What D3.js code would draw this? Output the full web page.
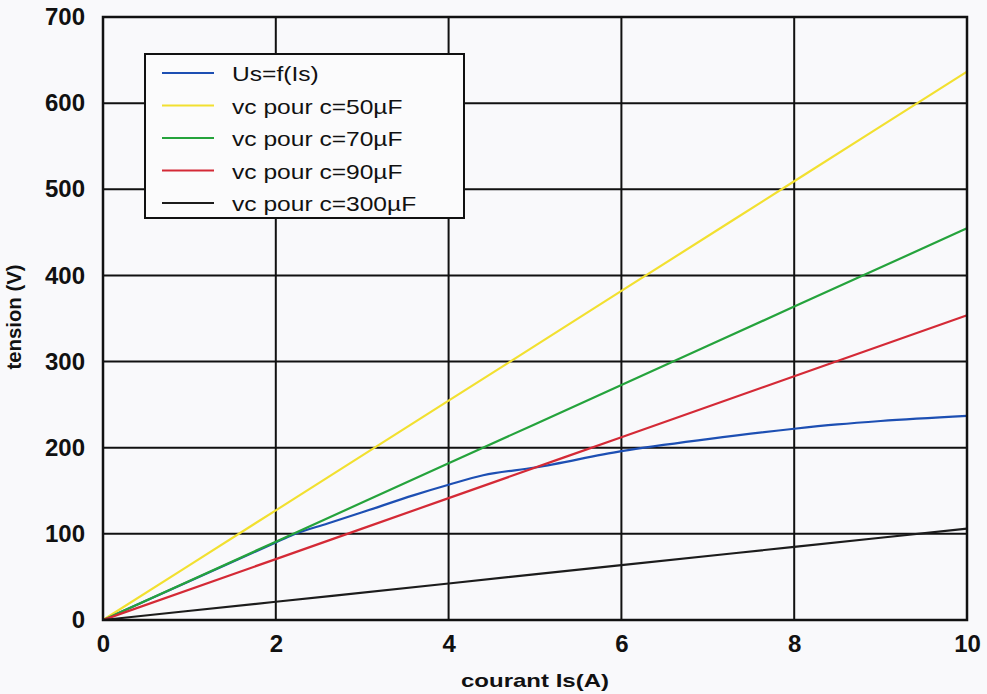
<!DOCTYPE html>
<html>
<head>
<meta charset="utf-8">
<script src="https://cdn.jsdelivr.net/npm/d3@7"></script>
<style>
  html, body { margin: 0; padding: 0; background: #f9f9fb; }
  svg { display: block; }
  text { font-family: "Liberation Sans", Arial, sans-serif; fill: #111; }
</style>
</head>
<body>
<svg id="chart" width="987" height="694"></svg>
<script>
// Current values (A) at which the capacitor voltages are tabulated
const currentA = [0, 2, 4, 6, 8, 10];
// Capacitor voltage vc (V) for each capacitance
const vc50  = [0, 127.3, 254.6, 382.0, 509.3, 636.6];
const vc70  = [0, 90.9, 181.9, 272.8, 363.8, 454.7];
const vc90  = [0, 70.7, 141.5, 212.2, 282.9, 353.7];
const vc300 = [0, 21.2, 42.4, 63.7, 84.9, 106.1];
// Measured characteristic Us = f(Is)
const usCurrent = [0, 1, 2, 2.2, 2.6, 3, 3.6, 4, 4.4, 5, 6, 7, 8, 8.5, 9, 10];
const usVoltage = [0, 45, 90, 99, 112, 125, 145, 157, 168, 177, 196, 210, 222, 227, 231, 237];

const seriesNames = ["Us=f(Is)", "vc pour c=50µF", "vc pour c=70µF", "vc pour c=90µF", "vc pour c=300µF"];
const seriesColors = ["#1d4fb3", "#f2e030", "#25a33c", "#d42a36", "#1c1c1c"];

const xTicks = [0, 2, 4, 6, 8, 10];
const yTicks = [0, 100, 200, 300, 400, 500, 600, 700];
const xTitle = "courant Is(A)";
const yTitle = "tension (V)";

const series = [
  usCurrent.map((c, i) => [c, usVoltage[i]]),
  currentA.map((c, i) => [c, vc50[i]]),
  currentA.map((c, i) => [c, vc70[i]]),
  currentA.map((c, i) => [c, vc90[i]]),
  currentA.map((c, i) => [c, vc300[i]])
];

const svg = d3.select("#chart");
const plot = { left: 103, right: 967, top: 17, bottom: 620 };

const x = d3.scaleLinear().domain([0, 10]).range([plot.left, plot.right]);
const y = d3.scaleLinear().domain([0, 700]).range([plot.bottom, plot.top]);

// grid
const grid = svg.append("g").attr("stroke", "#111").attr("stroke-width", 2);
grid.selectAll("line.v").data(xTicks.slice(1, -1)).join("line")
  .attr("x1", d => x(d)).attr("x2", d => x(d))
  .attr("y1", plot.top).attr("y2", plot.bottom);
grid.selectAll("line.h").data(yTicks.slice(1, -1)).join("line")
  .attr("x1", plot.left).attr("x2", plot.right)
  .attr("y1", d => y(d)).attr("y2", d => y(d));

// data lines (measured curve drawn first, capacitor lines over it)
const line = d3.line().x(d => x(d[0])).y(d => y(d[1])).curve(d3.curveMonotoneX);
svg.append("g").selectAll("path").data(series).join("path")
  .attr("d", line)
  .attr("fill", "none")
  .attr("stroke-width", 2.2)
  .attr("stroke-linejoin", "round")
  .attr("stroke", (d, i) => seriesColors[i]);

// frame
svg.append("rect")
  .attr("x", plot.left).attr("y", plot.top)
  .attr("width", plot.right - plot.left).attr("height", plot.bottom - plot.top)
  .attr("fill", "none").attr("stroke", "#111").attr("stroke-width", 2.5);

// axes
const yAxis = svg.append("g").attr("transform", `translate(${plot.left},0)`)
  .call(d3.axisLeft(y).tickValues(yTicks).tickSize(0).tickPadding(18).tickFormat(d3.format("d")));
const xAxis = svg.append("g").attr("transform", `translate(0,${plot.bottom})`)
  .call(d3.axisBottom(x).tickValues(xTicks).tickSize(0).tickPadding(15).tickFormat(d3.format("d")));
[yAxis, xAxis].forEach(g => {
  g.select(".domain").remove();
  g.selectAll("text")
    .style("font-family", "'Liberation Sans', Arial, sans-serif")
    .style("font-size", "24px").style("font-weight", "bold").attr("fill", "#111");
});

// axis titles
svg.append("text")
  .attr("x", (plot.left + plot.right) / 2).attr("y", 687)
  .attr("text-anchor", "middle")
  .attr("textLength", 148).attr("lengthAdjust", "spacingAndGlyphs")
  .style("font-size", "19px").style("font-weight", "bold")
  .text(xTitle);
svg.append("text")
  .attr("transform", "translate(21,317) rotate(-90)")
  .attr("text-anchor", "middle")
  .attr("textLength", 105).attr("lengthAdjust", "spacingAndGlyphs")
  .style("font-size", "20px").style("font-weight", "bold")
  .text(yTitle);

// legend
const legend = svg.append("g").attr("transform", "translate(145,54)");
legend.append("rect")
  .attr("width", 319).attr("height", 164)
  .attr("fill", "#fbfbfc").attr("stroke", "#111").attr("stroke-width", 2);
const rows = legend.selectAll("g.row").data(seriesNames).join("g")
  .attr("transform", (d, i) => `translate(0,${19 + i * 32.5})`);
rows.append("line")
  .attr("x1", 17).attr("x2", 69).attr("y1", 0).attr("y2", 0)
  .attr("stroke-width", 2.2)
  .attr("stroke", (d, i) => seriesColors[i]);
rows.append("text")
  .attr("x", 87).attr("y", 8)
  .style("font-size", "21px")
  .text(d => d)
  .each(function () {
    const w = this.getComputedTextLength();
    d3.select(this).attr("textLength", w * 1.17).attr("lengthAdjust", "spacingAndGlyphs");
  });
</script>
</body>
</html>
